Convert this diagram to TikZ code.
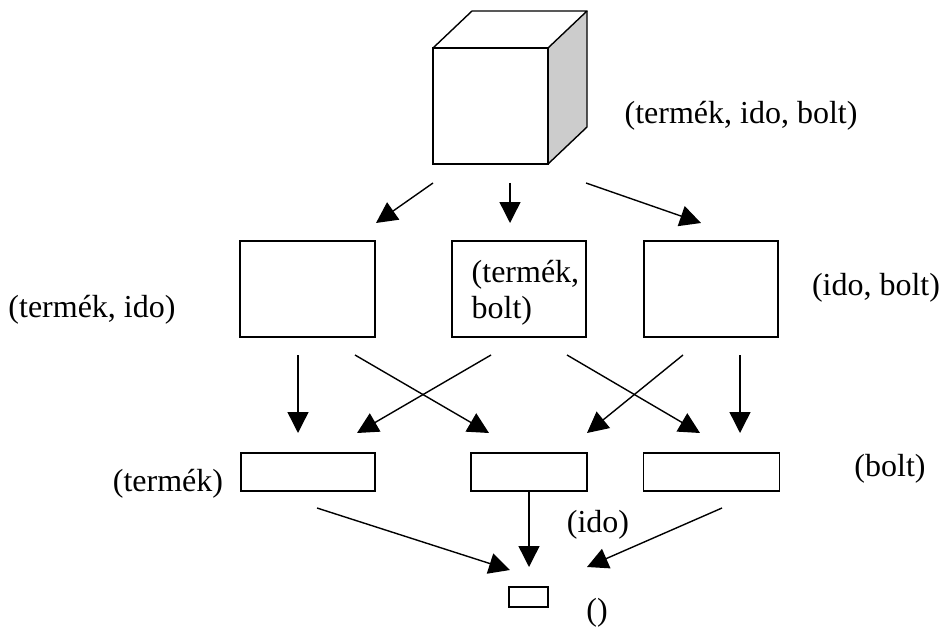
\documentclass[tikz,border=0pt]{standalone}
\usepackage{fontspec}
\setmainfont{Liberation Serif}
\usetikzlibrary{arrows.meta}
\begin{document}
\begin{tikzpicture}[x=1pt,y=-1pt,line width=1.4pt,
  box/.style={draw,line width=1.4pt,inner sep=0pt,fill=white},
  arr/.style={line width=1.4pt,-{Triangle[length=21pt,width=21pt]}},
  lbl/.style={font=\fontsize{32}{36}\selectfont,inner sep=0pt}]
\useasboundingbox (0,0) rectangle (947,631);
% cube
\fill[gray!40] (548,48) -- (587,11) -- (587,127) -- (548,164) -- cycle;
\draw[line join=round] (433,48) -- (472,11) -- (587,11) -- (548,48);
\draw[line join=round] (587,11) -- (587,127) -- (548,164);
\node[box,minimum width=115pt,minimum height=116pt] (cube) at (490.5,106) {};
\node[lbl] (lcube) at (741,116) {(termék, ido, bolt)};
% row 2
\node[box,minimum width=135pt,minimum height=96pt] (ti) at (307.5,289) {};
\node[box,minimum width=134pt,minimum height=96pt] (tb) at (519,289) {};
\node[box,minimum width=134pt,minimum height=96pt] (ib) at (711,289) {};
\node[lbl,align=left,anchor=north west] (ltb) at (471,260) {(termék,\\bolt)};
\node[lbl] (lti) at (92,310) {(termék, ido)};
\node[lbl] (lib) at (876,288) {(ido, bolt)};
% row 3
\node[box,minimum width=134pt,minimum height=38pt] (t) at (308,472) {};
\node[box,minimum width=116pt,minimum height=38pt] (i) at (529,472) {};
\node[box,minimum width=136pt,minimum height=38pt] (b) at (711.5,472) {};
\node[lbl] (lt) at (168,484) {(termék)};
\node[lbl] (lb) at (890,469) {(bolt)};
\node[lbl] (li) at (598,525) {(ido)};
% apex
\node[box,minimum width=39pt,minimum height=20pt] (e) at (528.5,597) {};
\node[lbl] (le) at (597,613) {()};
% arrows from the cube
\coordinate (c1s) at (433,183); \coordinate (c1e) at (376,223);
\coordinate (c2s) at (510,183); \coordinate (c2e) at (510,223);
\coordinate (c3s) at (586,183); \coordinate (c3e) at (701,223);
\draw[arr] (c1s) -- (c1e);
\draw[arr] (c2s) -- (c2e);
\draw[arr] (c3s) -- (c3e);
% arrows row 2 to row 3
\coordinate (a1s) at (298,355); \coordinate (a1e) at (298,433);
\coordinate (a2s) at (355,355); \coordinate (a2e) at (489,433);
\coordinate (a3s) at (491,355); \coordinate (a3e) at (357,433);
\coordinate (a4s) at (567,355); \coordinate (a4e) at (700,433);
\coordinate (a5s) at (683,355); \coordinate (a5e) at (587,433);
\coordinate (a6s) at (740,355); \coordinate (a6e) at (740,433);
\draw[arr] (a1s) -- (a1e);
\draw[arr] (a2s) -- (a2e);
\draw[arr] (a3s) -- (a3e);
\draw[arr] (a4s) -- (a4e);
\draw[arr] (a5s) -- (a5e);
\draw[arr] (a6s) -- (a6e);
% arrows row 3 to apex
\coordinate (b1s) at (317,508); \coordinate (b1e) at (510,570);
\coordinate (b3s) at (722,508); \coordinate (b3e) at (587,567);
\coordinate (b2e) at (529,567);
\draw[arr] (b1s) -- (b1e);
\draw[arr] (i.south) -- (b2e);
\draw[arr] (b3s) -- (b3e);
\end{tikzpicture}
\end{document}
